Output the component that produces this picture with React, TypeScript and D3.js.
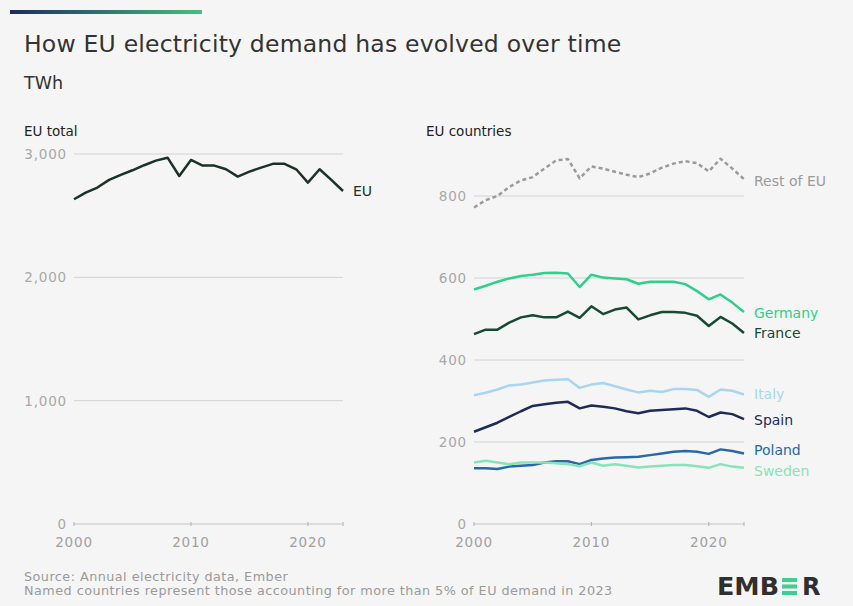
import React from "react";
import * as d3 from "d3";

const years = d3.range(2000, 2024);
const euTotal = [2633, 2687, 2728, 2790, 2830, 2868, 2909, 2946, 2970, 2822, 2952, 2906, 2906, 2876, 2817, 2857, 2890, 2920, 2920, 2876, 2768, 2876, 2790, 2700];
const restOfEU = [772, 790, 800, 822, 838, 846, 867, 887, 890, 843, 872, 867, 859, 852, 846, 855, 869, 879, 885, 880, 860, 891, 867, 841];
const germany = [572, 581, 591, 599, 605, 608, 612, 613, 611, 578, 608, 601, 599, 597, 586, 591, 591, 591, 585, 568, 548, 560, 540, 517];
const france = [463, 474, 474, 491, 504, 509, 504, 504, 518, 503, 531, 512, 523, 528, 499, 509, 517, 517, 515, 508, 483, 505, 489, 466];
const italy = [314, 320, 328, 338, 340, 345, 350, 352, 353, 332, 340, 344, 336, 328, 321, 325, 322, 329, 329, 327, 310, 328, 325, 316];
const spain = [225, 236, 247, 261, 275, 288, 292, 296, 298, 282, 289, 286, 282, 275, 270, 276, 278, 280, 282, 276, 261, 272, 268, 256];
const poland = [136, 136, 134, 140, 142, 144, 150, 153, 153, 146, 156, 160, 162, 163, 164, 168, 172, 176, 178, 176, 171, 182, 178, 172];
const sweden = [150, 154, 150, 146, 150, 150, 150, 148, 146, 141, 150, 142, 146, 142, 138, 140, 142, 144, 144, 141, 137, 146, 140, 137];

const seriesNames = ["Rest of EU", "Germany", "France", "Italy", "Spain", "Poland", "Sweden"];
const leftTicks = [0, 1000, 2000, 3000];
const rightTicks = [0, 200, 400, 600, 800];
const xTicks = [2000, 2010, 2020];

const countryValues = [restOfEU, germany, france, italy, spain, poland, sweden];
const countryStyles = [
  { color: "#9b9b9b", dash: "4,3", dy: 2 },
  { color: "#2fcf8c", dash: null, dy: 1 },
  { color: "#174a32", dash: null, dy: 0 },
  { color: "#a9d5f0", dash: null, dy: 0 },
  { color: "#1d2b58", dash: null, dy: 1 },
  { color: "#2769a6", dash: null, dy: -3 },
  { color: "#86e3bb", dash: null, dy: 3 },
];

const FONT = "'DejaVu Sans', Inter, sans-serif";

export default function App() {
  const W = 853, H = 606;
  const xL = d3.scaleLinear().domain([2000, 2023]).range([74, 343]);
  const yL = d3.scaleLinear().domain([0, 3000]).range([524, 154]);
  const xR = d3.scaleLinear().domain([2000, 2023]).range([474, 744]);
  const yR = d3.scaleLinear().domain([0, 800]).range([524, 196]);

  const lineL = d3.line<number>().x((_, i) => xL(years[i])).y((d) => yL(d));
  const lineR = d3.line<number>().x((_, i) => xR(years[i])).y((d) => yR(d));

  const axisTicks = [2000, 2010, 2020, 2023];

  const renderXAxis = (x: d3.ScaleLinear<number, number>, y0: number) => (
    <g>
      <line x1={x(2000)} x2={x(2023)} y1={y0} y2={y0} stroke="#c4c4c4" strokeWidth={1} />
      {axisTicks.map((t) => (
        <line key={t} x1={x(t)} x2={x(t)} y1={y0 - 2} y2={y0 + 2} stroke="#b0b0b0" strokeWidth={1} />
      ))}
      {xTicks.map((t) => (
        <text key={"l" + t} x={x(t)} y={546.5} textAnchor="middle" fontSize={13.5} letterSpacing={0.8} fill="#a0a0a0" fontFamily={FONT}>
          {t}
        </text>
      ))}
    </g>
  );

  return (
    <svg width={W} height={H} style={{ position: "absolute", left: 0, top: 0, display: "block" }}>
      <defs>
        <linearGradient id="topbar" x1="0" x2="1" y1="0" y2="0">
          <stop offset="0%" stopColor="#1c2d5c" />
          <stop offset="100%" stopColor="#45c07f" />
        </linearGradient>
      </defs>
      <rect x={0} y={0} width={W} height={H} fill="#f5f5f5" />
      <rect x={10} y={10} width={192} height={4} fill="url(#topbar)" />
      <text x={24} y={52} fontSize={23.5} letterSpacing={0.2} fill="#333" fontFamily={FONT}>
        How EU electricity demand has evolved over time
      </text>
      <text x={24} y={89} fontSize={17.5} fill="#333" fontFamily={FONT}>TWh</text>

      <text x={24} y={136} fontSize={13.5} fill="#222" fontFamily={FONT}>EU total</text>
      <text x={426} y={136} fontSize={13.5} fill="#222" fontFamily={FONT}>EU countries</text>

      {/* Left chart */}
      {leftTicks.filter((t) => t > 0).map((t) => (
        <line key={t} x1={74} x2={343} y1={yL(t)} y2={yL(t)} stroke="#d2d2d2" strokeWidth={1} />
      ))}
      {leftTicks.map((t) => (
        <text key={"t" + t} x={67} y={yL(t) + 5} textAnchor="end" fontSize={13.5} letterSpacing={0.8} fill="#a8a8a8" fontFamily={FONT}>
          {d3.format(",")(t)}
        </text>
      ))}
      {renderXAxis(xL, yL(0))}
      <path d={lineL(euTotal) || ""} fill="none" stroke="#1b3226" strokeWidth={2.5} strokeLinejoin="round" />
      <text x={353} y={yL(euTotal[23]) + 5} fontSize={14} fill="#1b3226" fontFamily={FONT}>EU</text>

      {/* Right chart */}
      {rightTicks.filter((t) => t > 0).map((t) => (
        <line key={t} x1={474} x2={744} y1={yR(t)} y2={yR(t)} stroke="#d2d2d2" strokeWidth={1} />
      ))}
      {rightTicks.map((t) => (
        <text key={"r" + t} x={467} y={yR(t) + 5} textAnchor="end" fontSize={13.5} letterSpacing={0.8} fill="#a8a8a8" fontFamily={FONT}>
          {t}
        </text>
      ))}
      {renderXAxis(xR, yR(0))}
      {seriesNames.map((name, k) => {
        const vals = countryValues[k];
        const st = countryStyles[k];
        return (
          <g key={name}>
            <path
              d={lineR(vals) || ""}
              fill="none"
              stroke={st.color}
              strokeWidth={2.5}
              strokeLinejoin="round"
              strokeDasharray={st.dash || undefined}
            />
            <text x={754} y={yR(vals[vals.length - 1]) + st.dy + 5} fontSize={14} fill={st.color} fontFamily={FONT}>
              {name}
            </text>
          </g>
        );
      })}

      {/* Footer */}
      <text x={24} y={581} fontSize={12.8} letterSpacing={0.45} fill="#9a9a9a" fontFamily={FONT}>Source: Annual electricity data, Ember</text>
      <text x={24} y={595} fontSize={12.8} letterSpacing={0.45} fill="#9a9a9a" fontFamily={FONT}>
        Named countries represent those accounting for more than 5% of EU demand in 2023
      </text>
      <g>
        <text x={717} y={595} fontSize={24} fontWeight={700} fill="#2f2f2f" fontFamily={FONT} textLength={62} lengthAdjust="spacingAndGlyphs">
          EMB
        </text>
        <rect x={782} y={578} width={15} height={4} fill="#3fcf8e" />
        <rect x={782} y={584.5} width={15} height={4} fill="#3fcf8e" />
        <rect x={782} y={591} width={15} height={4} fill="#3fcf8e" />
        <text x={802} y={595} fontSize={24} fontWeight={700} fill="#2f2f2f" fontFamily={FONT}>
          R
        </text>
      </g>
    </svg>
  );
}
